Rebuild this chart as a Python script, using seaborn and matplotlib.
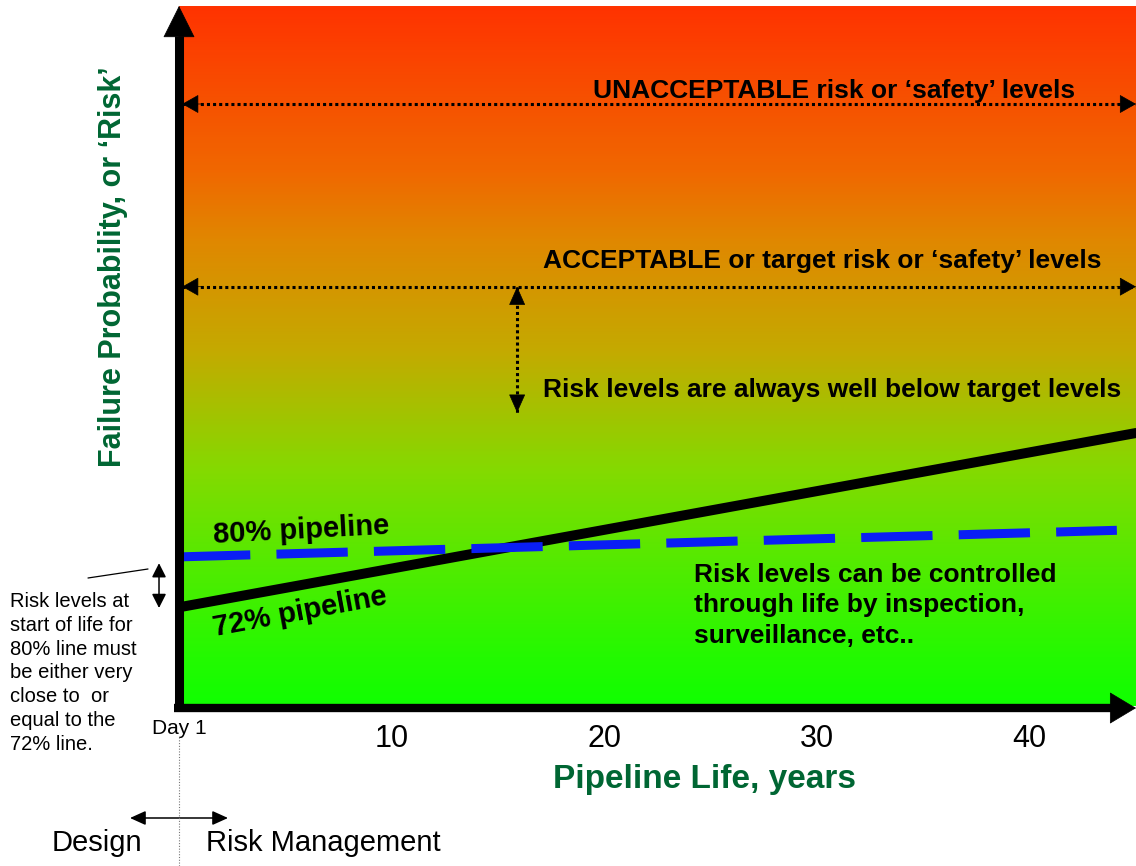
import matplotlib.pyplot as plt
import seaborn as sns
import numpy as np
import pandas as pd
from matplotlib.colors import LinearSegmentedColormap
from matplotlib.lines import Line2D

# risk lines, x in pipeline years, y in relative risk (0-100)
years_72 = [0, 45]
risk_72 = [14.1, 39.0]
years_80 = [0, 44.1]
risk_80 = [21.3, 25.1]

unacceptable_level = 86.0
acceptable_level = 59.9
margin_year = 15.9
margin_bottom = 41.9
start_gap = [20.4, 14.0]  # small arrow at start of life

tick_years = [10, 20, 30, 40]
tick_labels = ["10", "20", "30", "40"]

# background gradient, bottom (green) -> top (red)
grad_pos = [0.0, 0.064, 0.207, 0.336, 0.507, 0.664, 0.764, 1.0]
grad_cols = ["#10FF00", "#22FA00", "#55EA00", "#84DA00",
             "#C4AA00", "#E08800", "#F06800", "#FF3300"]

GREEN = "#006633"
W, H = 1136, 866


def fx(px):
    return px / W


def fy(py):
    return 1 - py / H


sns.set_theme(style="white")
plt.rcParams["font.family"] = ["Liberation Sans", "DejaVu Sans"]
plt.rcParams["text.color"] = "black"

fig = plt.figure(figsize=(W / 100, H / 100), dpi=100)
ax = fig.add_axes([fx(179), fy(706), 957 / W, 700 / H])

cmap = LinearSegmentedColormap.from_list("risk", list(zip(grad_pos, grad_cols)))
grad = np.linspace(0, 1, 512).reshape(-1, 1)
ax.imshow(grad, cmap=cmap, aspect="auto", origin="lower",
          extent=[0, 45, 0, 100], zorder=0)

df72 = pd.DataFrame({"year": years_72, "risk": risk_72})
df80 = pd.DataFrame({"year": years_80, "risk": risk_80})
sns.lineplot(data=df72, x="year", y="risk", color="black", lw=7.2, ax=ax, zorder=3)
sns.lineplot(data=df80, x="year", y="risk", color="#0A1EF5", lw=6.5,
             linestyle=(0, (7.9, 2.9)), ax=ax, zorder=3)

ax.set_xlim(0, 45)
ax.set_ylim(0, 100)
for s in ax.spines.values():
    s.set_visible(False)

# dotted double arrows for risk levels
def dotted_double(x0, y0, x1, y1, hl=1.08, hw=0.61):
    ax.plot([x0, x1], [y0, y1], color="black", lw=2.2, linestyle=(0, (1, 1)),
            dash_capstyle="butt", zorder=4, clip_on=False)
    for (xa, ya), (xb, yb) in [((x0, y0), (x1, y1)), ((x1, y1), (x0, y0))]:
        ax.annotate("", xy=(xa, ya), xytext=(xa + (xb - xa) * 0.02, ya + (yb - ya) * 0.12),
                    arrowprops=dict(arrowstyle=f"-|>,head_length={hl},head_width={hw}",
                                    mutation_scale=10, color="black", lw=0.5,
                                    shrinkA=0, shrinkB=0),
                    annotation_clip=False, zorder=4)

dotted_double(0.15, unacceptable_level, 45, unacceptable_level)
dotted_double(0.15, acceptable_level, 45, acceptable_level)
ax.plot([margin_year, margin_year], [acceptable_level, margin_bottom], color="black",
        lw=2.2, linestyle=(0, (1, 1)), dash_capstyle="butt", zorder=4)
for ya, yb in [(acceptable_level, margin_bottom), (margin_bottom, acceptable_level)]:
    ax.annotate("", xy=(margin_year, ya), xytext=(margin_year, ya + (yb - ya) * 0.12),
                arrowprops=dict(arrowstyle="-|>,head_length=1.22,head_width=0.54",
                                mutation_scale=10, color="black", lw=0.5,
                                shrinkA=0, shrinkB=0),
                annotation_clip=False, zorder=4)

# axis arrows
ax.plot([0, 0], [-0.004, 1 - 30 / 700], transform=ax.transAxes, color="black",
        lw=6.5, solid_capstyle="butt", clip_on=False, zorder=6)
ax.annotate("", xy=(0, 1.0), xycoords="axes fraction", xytext=(0, 0.9),
            arrowprops=dict(arrowstyle="-|>,head_length=1.08,head_width=0.54",
                            mutation_scale=20, color="black", lw=0.5,
                            shrinkA=0, shrinkB=0),
            annotation_clip=False, zorder=6)
ax.plot([-0.0052, 0.975], [-0.0029, -0.0029], transform=ax.transAxes, color="black",
        lw=6, solid_capstyle="butt", clip_on=False, zorder=6)
ax.annotate("", xy=(1.0, -0.0029), xycoords="axes fraction", xytext=(0.9, -0.0029),
            arrowprops=dict(arrowstyle="-|>,head_length=0.9,head_width=0.54",
                            mutation_scale=20, color="black", lw=0.5,
                            shrinkA=0, shrinkB=0),
            annotation_clip=False, zorder=6)

# ticks and labels
ax.set_xticks(tick_years)
ax.set_xticklabels(tick_labels, fontsize=22, color="black")
ax.set_yticks([])
ax.tick_params(axis="x", length=0, pad=13)

ax.set_xlabel("Pipeline Life, years", fontsize=24, fontweight="bold", color=GREEN, va="center")
ax.xaxis.set_label_coords(0.5486, -0.1057)
ax.set_ylabel("Failure Probability, or \u2018Risk\u2019", fontsize=22, fontweight="bold",
              color=GREEN, va="center")
ax.yaxis.set_label_coords(-0.069, 0.627)

bold = dict(fontsize=19, fontweight="bold", color="black", zorder=5)
ax.text(19.46, 87.9, "UNACCEPTABLE risk or \u2018safety\u2019 levels", ha="left", va="center", **bold)
ax.text(17.1, 63.6, "ACCEPTABLE or target risk or \u2018safety\u2019 levels", ha="left", va="center", **bold)
ax.text(17.1, 45.1, "Risk levels are always well below target levels", ha="left", va="center", **bold)
ax.text(24.2, 14.4, "Risk levels can be controlled\nthrough life by inspection,\nsurveillance, etc..",
        ha="left", va="center", linespacing=1.35, **bold)
ax.text(5.74, 25.1, "80% pipeline", ha="center", va="center", rotation=3,
        rotation_mode="anchor", fontsize=21, fontweight="bold", color="black", zorder=5)
ax.text(5.69, 13.4, "72% pipeline", ha="center", va="center", rotation=10.5,
        rotation_mode="anchor", fontsize=21, fontweight="bold", color="black", zorder=5)

# outside annotations
fig.text(fx(179), fy(729), "Day 1", ha="center", va="center", fontsize=15, color="black")
fig.text(fx(10), fy(592), "Risk levels at\nstart of life for\n80% line must\nbe either very\n"
         "close to  or\nequal to the\n72% line.", ha="left", va="top", fontsize=14.5,
         linespacing=1.32, color="black")
fig.text(fx(97), fy(843), "Design", ha="center", va="center", fontsize=21, color="black")
fig.text(fx(323), fy(843), "Risk Management", ha="center", va="center", fontsize=21,
         color="black")

fig.add_artist(Line2D([fx(179), fx(179)], [fy(737), fy(866)], transform=fig.transFigure,
                      color="#777777", lw=0.8, linestyle=(0, (1, 1.5))))
fig.add_artist(Line2D([fx(88), fx(148)], [fy(578), fy(569)], transform=fig.transFigure,
                      color="black", lw=0.9))
ax.annotate("", xy=(130, H - 818), xycoords="figure pixels", xytext=(228, H - 818),
            textcoords="figure pixels",
            arrowprops=dict(arrowstyle="<|-|>,head_length=0.95,head_width=0.43",
                            mutation_scale=10, color="black", lw=1.1,
                            shrinkA=0, shrinkB=0),
            annotation_clip=False)
ax.annotate("", xy=(-0.94, start_gap[0]), xytext=(-0.94, start_gap[1]),
            arrowprops=dict(arrowstyle="<|-|>,head_length=0.85,head_width=0.43",
                            mutation_scale=10, color="black", lw=1.1,
                            shrinkA=0, shrinkB=0),
            annotation_clip=False)

plt.savefig("out.png", dpi=100)
